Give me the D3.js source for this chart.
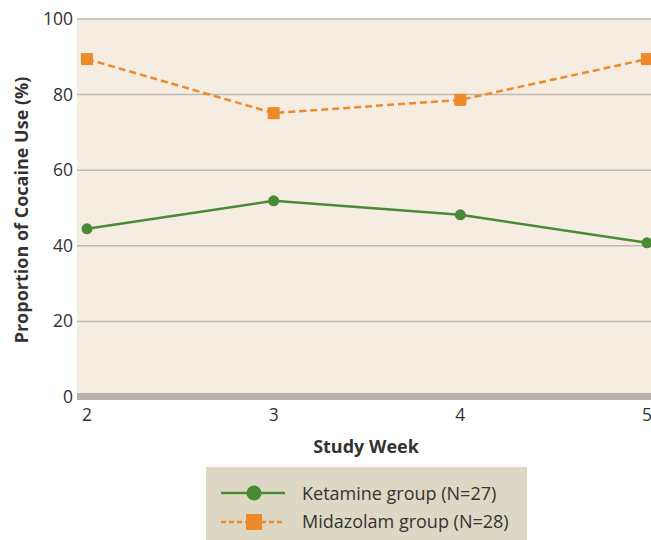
<!DOCTYPE html>
<html>
<head>
<meta charset="utf-8">
<script src="https://cdn.jsdelivr.net/npm/d3@7"></script>
<style>
  body { margin: 0; background: #fff; }
  svg text { font-family: "Open Sans", Lato, sans-serif; fill: #333; }
</style>
</head>
<body>
<div id="chart"></div>
<script>
// chart data
let weeks = [2, 3, 4, 5];
let ketamine = [44.5, 51.9, 48.2, 40.8];
let midazolam = [89.4, 75.1, 78.6, 89.4];
let yTicks = [0, 20, 40, 60, 80, 100];
let seriesNames = ['Ketamine group (N=27)', 'Midazolam group (N=28)'];

let width = 651;
let height = 540;
let left = 77; // left edge of plot area
let green = '#4a8a35';
let orange = '#ee8a2a';

let svg = d3.select('#chart')
		.append('svg')
		.attr('width', width)
		.attr('height', height);

let xScale = d3.scaleLinear().domain([2, 5]).range([87, 647]);
let yScale = d3.scaleLinear().domain([0, 100]).range([397, 19]);

// Plot background
svg.append('rect')
		.attr('x', left)
		.attr('y', yScale(100))
		.attr('width', width - left)
		.attr('height', yScale(0) - yScale(100))
		.attr('fill', '#f5ede1');

// Gridlines
svg.append('g')
		.selectAll('line')
		.data(yTicks.filter(d => d > 0))
		.enter()
		.append('line')
		.attr('x1', left)
		.attr('x2', width)
		.attr('y1', d => yScale(d))
		.attr('y2', d => yScale(d))
		.attr('stroke', '#bfb8b3')
		.attr('stroke-width', 1.5);

// Thick base at zero
svg.append('rect')
		.attr('x', left)
		.attr('y', yScale(0) - 4)
		.attr('width', width - left)
		.attr('height', 7)
		.attr('fill', '#b8b2ad');

// Y tick labels
svg.append('g')
		.selectAll('text')
		.data(yTicks)
		.enter()
		.append('text')
		.attr('x', 73)
		.attr('y', d => yScale(d) + 6)
		.attr('text-anchor', 'end')
		.style('font-size', '17.5px')
		.text(d => d);

// X tick labels
svg.append('g')
		.selectAll('text')
		.data(weeks)
		.enter()
		.append('text')
		.attr('x', d => xScale(d))
		.attr('y', 421)
		.attr('text-anchor', 'middle')
		.style('font-size', '17.5px')
		.text(d => d);

// Axis titles
svg.append('text')
		.attr('x', 366)
		.attr('y', 453)
		.attr('text-anchor', 'middle')
		.style('font-size', '18px')
		.style('font-weight', 'bold')
		.text('Study Week');

svg.append('text')
		.attr('transform', `translate(${28}, ${210}) rotate(-90)`)
		.attr('text-anchor', 'middle')
		.style('font-size', '18px')
		.style('font-weight', 'bold')
		.text('Proportion of Cocaine Use (%)');

let line = d3.line()
		.x((d, i) => xScale(weeks[i]))
		.y(d => yScale(d));

// Midazolam series (dashed, squares)
svg.append('path')
		.attr('d', line(midazolam))
		.attr('fill', 'none')
		.attr('stroke', orange)
		.attr('stroke-width', 2.5)
		.attr('stroke-dasharray', '7,4');

svg.append('g')
		.selectAll('rect')
		.data(midazolam)
		.enter()
		.append('rect')
		.attr('x', (d, i) => xScale(weeks[i]) - 6)
		.attr('y', d => yScale(d) - 6)
		.attr('width', 12)
		.attr('height', 12)
		.attr('fill', orange);

// Ketamine series (solid, circles)
svg.append('path')
		.attr('d', line(ketamine))
		.attr('fill', 'none')
		.attr('stroke', green)
		.attr('stroke-width', 2.5);

svg.append('g')
		.selectAll('circle')
		.data(ketamine)
		.enter()
		.append('circle')
		.attr('cx', (d, i) => xScale(weeks[i]))
		.attr('cy', d => yScale(d))
		.attr('r', 5.5)
		.attr('fill', green);

// Legend
let legend = svg.append('g');
legend.append('rect')
		.attr('x', 206)
		.attr('y', 467)
		.attr('width', 321)
		.attr('height', 80)
		.attr('fill', '#ddd8c4');

// Ketamine entry
legend.append('line')
		.attr('x1', 221).attr('x2', 285)
		.attr('y1', 493).attr('y2', 493)
		.attr('stroke', green)
		.attr('stroke-width', 2.5);
legend.append('circle')
		.attr('cx', 254).attr('cy', 493)
		.attr('r', 7.5)
		.attr('fill', green);

// Midazolam entry
legend.append('line')
		.attr('x1', 221).attr('x2', 285)
		.attr('y1', 522).attr('y2', 522)
		.attr('stroke', orange)
		.attr('stroke-width', 2.5)
		.attr('stroke-dasharray', '5,3');
legend.append('rect')
		.attr('x', 246).attr('y', 514)
		.attr('width', 16).attr('height', 16)
		.attr('fill', orange);

legend.selectAll('text.lbl')
		.data(seriesNames)
		.enter()
		.append('text')
		.attr('class', 'lbl')
		.attr('x', 302)
		.attr('y', (d, i) => 500 + i * 28)
		.style('font-size', '18px')
		.text(d => d);
</script>
</body>
</html>
